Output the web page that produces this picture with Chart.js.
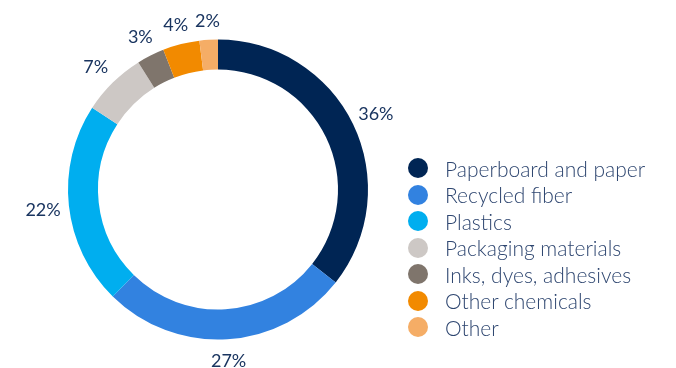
<!DOCTYPE html>
<html>
<head>
<meta charset="utf-8">
<script src="https://cdn.jsdelivr.net/npm/chart.js@4"></script>
<style>
  html, body { margin: 0; padding: 0; background: #fff; }
  #wrap { position: relative; width: 676px; height: 368px; }
  #legend { position: absolute; left: 408px; top: 155px; font-family: Lato, sans-serif; font-weight: 300; font-size: 21px; color: #2e4670; }
  .row { display: flex; align-items: center; height: 26.5px; }
  .dot { width: 20px; height: 20px; border-radius: 50%; margin-right: 17px; }
</style>
</head>
<body>
<div id="wrap">
  <canvas id="myChart" width="676" height="368"></canvas>
  <div id="legend"></div>
</div>
<script>
const labels = ["Paperboard and paper", "Recycled fiber", "Plastics", "Packaging materials", "Inks, dyes, adhesives", "Other chemicals", "Other"];
const values = [36, 27, 22, 7, 3, 4, 2];
const colors = ["#002554", "#3282e0", "#00aeef", "#cdc8c5", "#7f756c", "#f28a00", "#f5ad66"];

// percentage labels just outside the ring, at each slice's middle angle
const outsideLabels = {
  id: "outsideLabels",
  afterDatasetsDraw(chart) {
    const ctx = chart.ctx;
    const meta = chart.getDatasetMeta(0);
    ctx.save();
    ctx.font = "18px Lato, sans-serif";
    ctx.fillStyle = "#1a3560";
    ctx.textAlign = "center";
    ctx.textBaseline = "middle";
    meta.data.forEach((arc, i) => {
      const { x, y, startAngle, endAngle, outerRadius } = arc.getProps(["x", "y", "startAngle", "endAngle", "outerRadius"], true);
      const mid = (startAngle + endAngle) / 2;
      const r = outerRadius + 20 + 6 * Math.abs(Math.cos(mid));
      ctx.fillText(values[i] + "%", x + Math.cos(mid) * r, y + Math.sin(mid) * r + 1.5);
    });
    ctx.restore();
  }
};

const ctx = document.getElementById("myChart").getContext("2d");
const myChart = new Chart(ctx, {
  type: "doughnut",
  data: {
    labels: labels,
    datasets: [{ data: values, backgroundColor: colors, borderWidth: 0 }],
  },
  options: {
    responsive: false,
    animation: false,
    cutout: "80%",
    layout: { padding: { top: 39, bottom: 28, left: 68, right: 308 } },
    plugins: {
      legend: { display: false },
      tooltip: { enabled: false },
    },
  },
  plugins: [outsideLabels],
});

const legend = document.getElementById("legend");
labels.forEach((l, i) => {
  const row = document.createElement("div");
  row.className = "row";
  row.innerHTML = '<span class="dot" style="background:' + colors[i] + '"></span><span>' + l + "</span>";
  legend.appendChild(row);
});
</script>
</body>
</html>
